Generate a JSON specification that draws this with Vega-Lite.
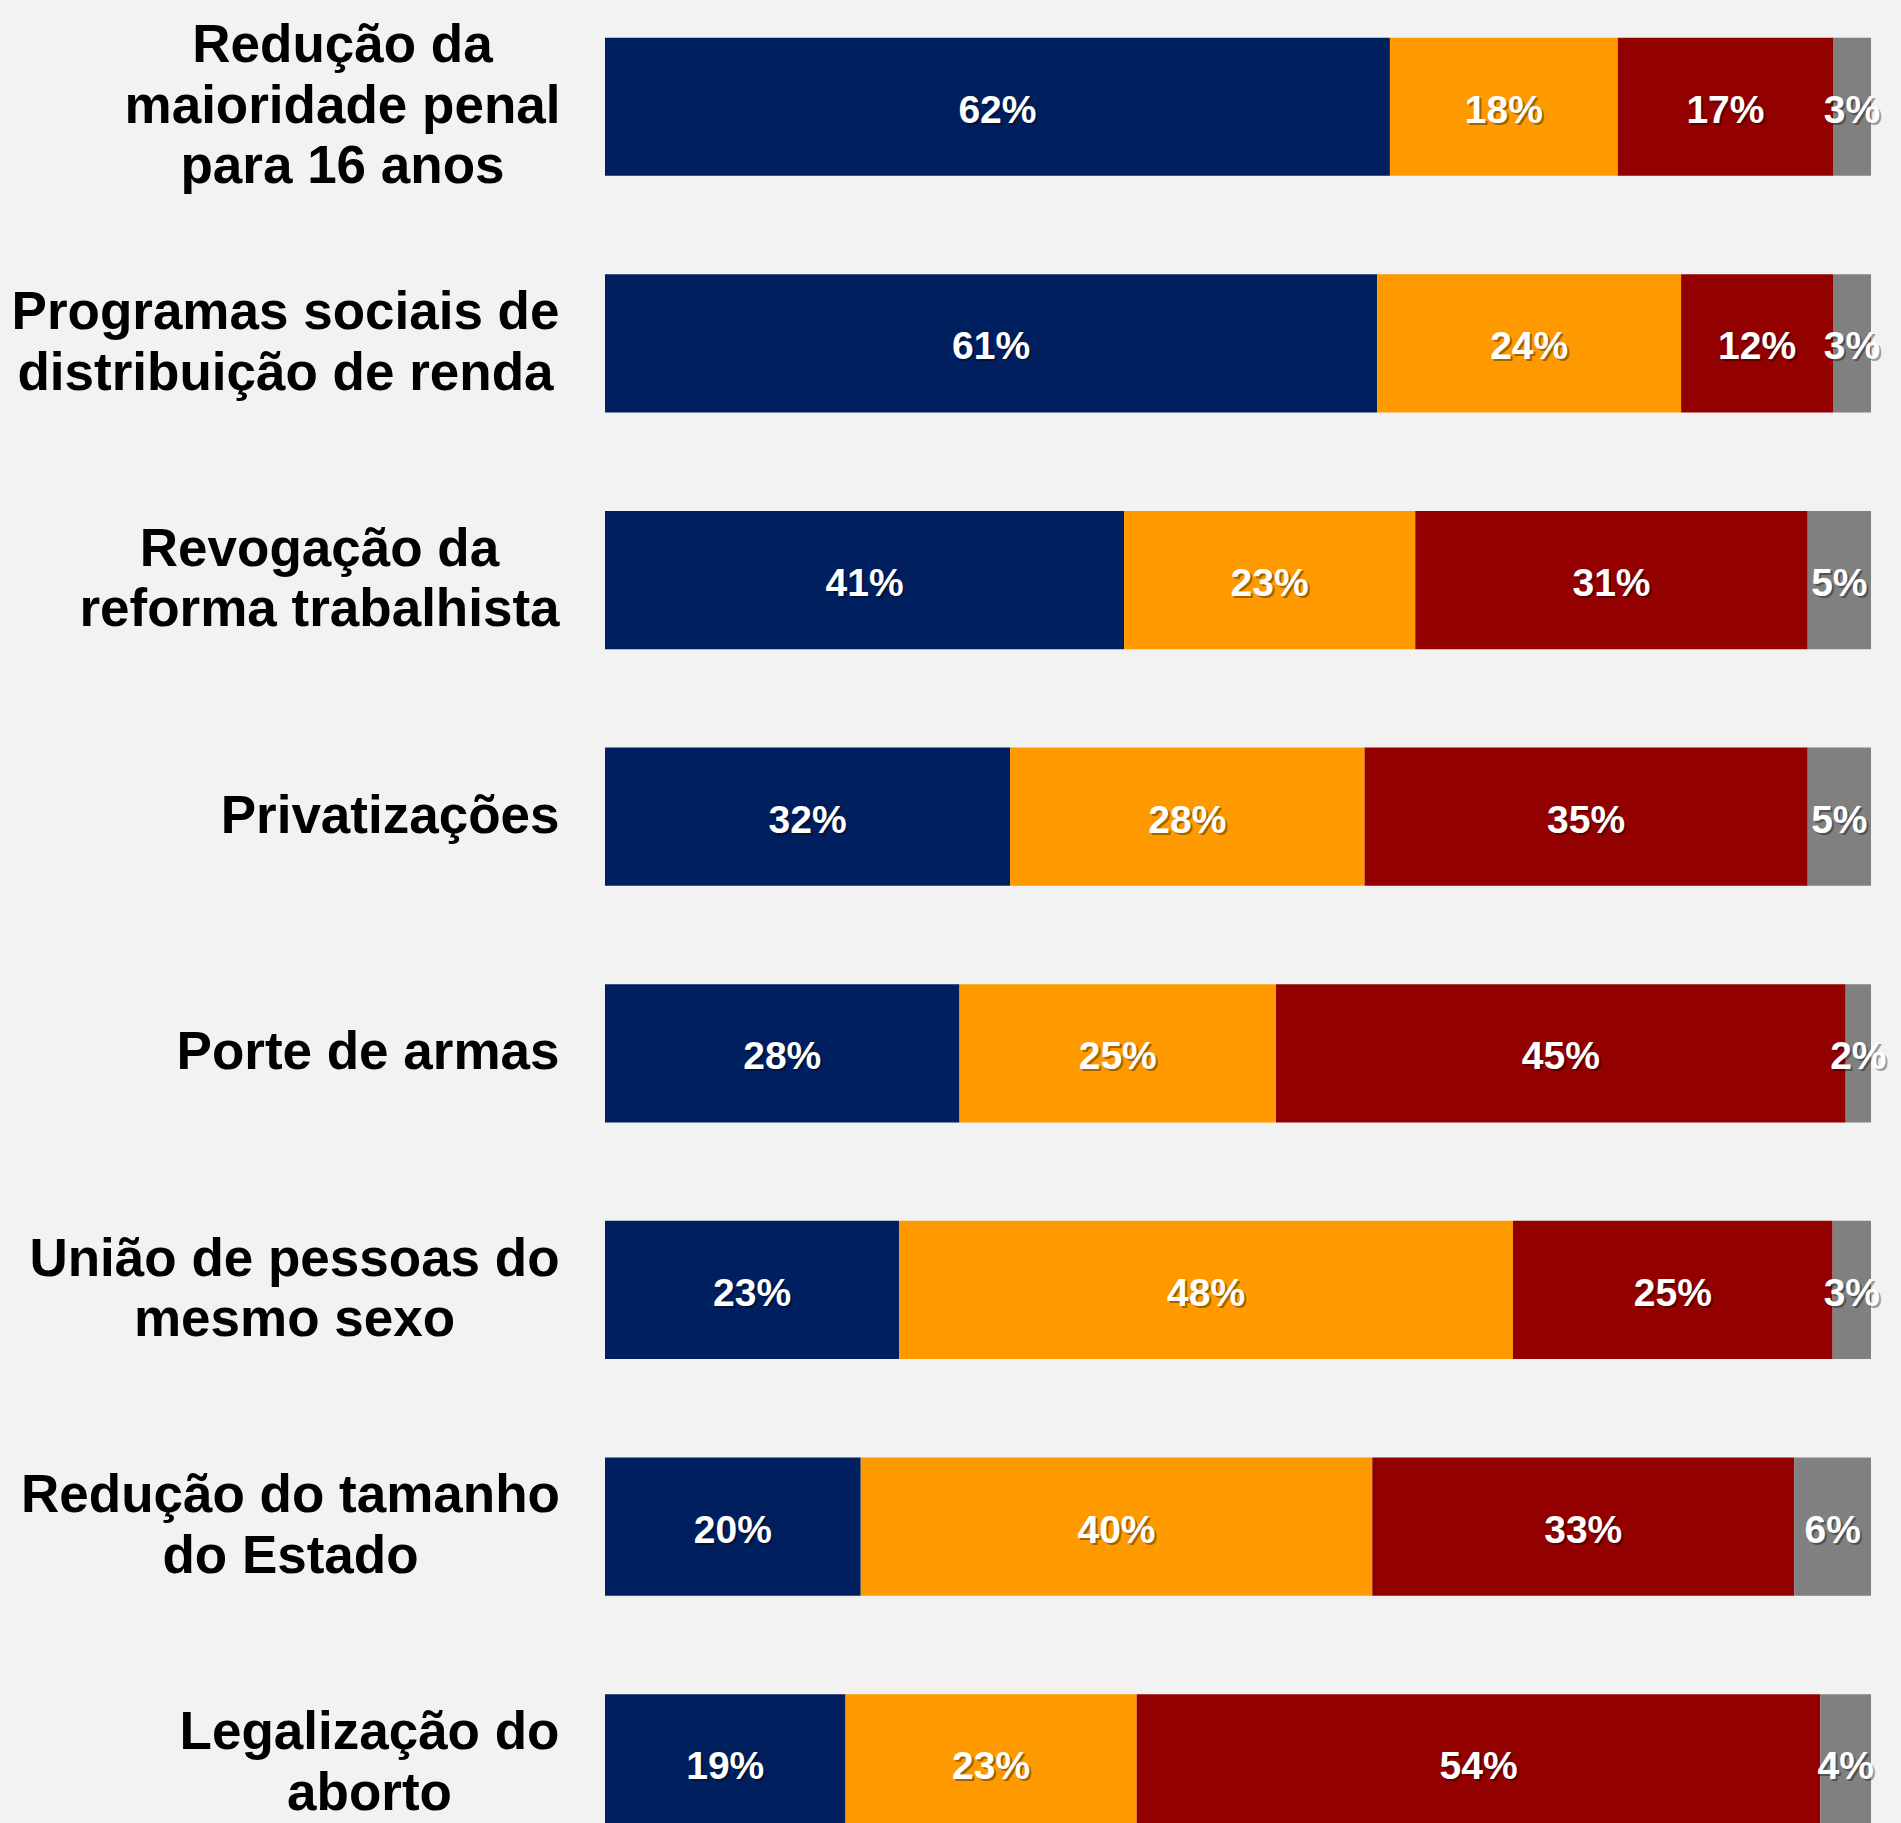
{
  "$schema": "https://vega.github.io/schema/vega-lite/v6.json",
  "autosize": {"type": "none"},
  "padding": {"left": 605, "top": 0, "right": 30, "bottom": 0},
  "width": 1266,
  "height": 1823,
  "background": "#f2f2f2",
  "config": {"view": {"stroke": null}, "font": "Liberation Sans"},
  "data": {"values": [
    {"item": "Redução da|maioridade penal|para 16 anos", "k": 1, "cat": "A favor", "value": 0.62},
    {"item": "Redução da|maioridade penal|para 16 anos", "k": 2, "cat": "Depende", "value": 0.18},
    {"item": "Redução da|maioridade penal|para 16 anos", "k": 3, "cat": "Contra", "value": 0.17},
    {"item": "Redução da|maioridade penal|para 16 anos", "k": 4, "cat": "Não sabe", "value": 0.03},
    {"item": "Programas sociais de|distribuição de renda", "k": 1, "cat": "A favor", "value": 0.61},
    {"item": "Programas sociais de|distribuição de renda", "k": 2, "cat": "Depende", "value": 0.24},
    {"item": "Programas sociais de|distribuição de renda", "k": 3, "cat": "Contra", "value": 0.12},
    {"item": "Programas sociais de|distribuição de renda", "k": 4, "cat": "Não sabe", "value": 0.03},
    {"item": "Revogação da|reforma trabalhista", "k": 1, "cat": "A favor", "value": 0.41},
    {"item": "Revogação da|reforma trabalhista", "k": 2, "cat": "Depende", "value": 0.23},
    {"item": "Revogação da|reforma trabalhista", "k": 3, "cat": "Contra", "value": 0.31},
    {"item": "Revogação da|reforma trabalhista", "k": 4, "cat": "Não sabe", "value": 0.05},
    {"item": "Privatizações", "k": 1, "cat": "A favor", "value": 0.32},
    {"item": "Privatizações", "k": 2, "cat": "Depende", "value": 0.28},
    {"item": "Privatizações", "k": 3, "cat": "Contra", "value": 0.35},
    {"item": "Privatizações", "k": 4, "cat": "Não sabe", "value": 0.05},
    {"item": "Porte de armas", "k": 1, "cat": "A favor", "value": 0.28},
    {"item": "Porte de armas", "k": 2, "cat": "Depende", "value": 0.25},
    {"item": "Porte de armas", "k": 3, "cat": "Contra", "value": 0.45},
    {"item": "Porte de armas", "k": 4, "cat": "Não sabe", "value": 0.02},
    {"item": "União de pessoas do|mesmo sexo", "k": 1, "cat": "A favor", "value": 0.23},
    {"item": "União de pessoas do|mesmo sexo", "k": 2, "cat": "Depende", "value": 0.48},
    {"item": "União de pessoas do|mesmo sexo", "k": 3, "cat": "Contra", "value": 0.25},
    {"item": "União de pessoas do|mesmo sexo", "k": 4, "cat": "Não sabe", "value": 0.03},
    {"item": "Redução do tamanho|do Estado", "k": 1, "cat": "A favor", "value": 0.20},
    {"item": "Redução do tamanho|do Estado", "k": 2, "cat": "Depende", "value": 0.40},
    {"item": "Redução do tamanho|do Estado", "k": 3, "cat": "Contra", "value": 0.33},
    {"item": "Redução do tamanho|do Estado", "k": 4, "cat": "Não sabe", "value": 0.06},
    {"item": "Legalização do|aborto", "k": 1, "cat": "A favor", "value": 0.19},
    {"item": "Legalização do|aborto", "k": 2, "cat": "Depende", "value": 0.23},
    {"item": "Legalização do|aborto", "k": 3, "cat": "Contra", "value": 0.54},
    {"item": "Legalização do|aborto", "k": 4, "cat": "Não sabe", "value": 0.04}
  ]},
  "encoding": {
    "y": {
      "field": "item", "type": "nominal", "sort": null,
      "scale": {"range": [0, 1870], "paddingInner": 0.416, "paddingOuter": 0.159},
      "axis": {
        "title": null, "domain": false, "ticks": false,
        "labelFontSize": 53, "labelFontWeight": "bold",
        "labelColor": "#000000", "labelLineHeight": 60.6,
        "labelBaseline": "middle", "labelLimit": 0,
        "labelExpr": "split(datum.label, '|')",
        "labelAlign": {"condition": {"test": "indexof(datum.value, '|') >= 0", "value": "center"}, "value": "right"},
        "labelOffset": {"condition": [
          {"test": "length(split(datum.value, '|')) == 3", "value": -60.6},
          {"test": "length(split(datum.value, '|')) == 2", "value": -30.3}
        ], "value": 0},
        "labelPadding": {"condition": [
          {"test": "indexof(datum.value, 'maioridade') >= 0", "value": 263},
          {"test": "indexof(datum.value, 'Programas') >= 0", "value": 320},
          {"test": "indexof(datum.value, 'trabalhista') >= 0", "value": 286},
          {"test": "indexof(datum.value, 'União') >= 0", "value": 311},
          {"test": "indexof(datum.value, 'tamanho') >= 0", "value": 315},
          {"test": "indexof(datum.value, 'aborto') >= 0", "value": 236}
        ], "value": 46}
      }
    },
    "order": {"field": "k", "type": "quantitative"}
  },
  "layer": [
    {
      "mark": {"type": "bar"},
      "encoding": {
        "x": {"field": "value", "type": "quantitative", "stack": "normalize", "scale": {"domain": [0, 1]}, "axis": null},
        "color": {
          "field": "cat", "type": "nominal",
          "scale": {"domain": ["A favor", "Depende", "Contra", "Não sabe"], "range": ["#001f5f", "#ff9900", "#930000", "#808080"]},
          "legend": null
        }
      }
    },
    {
      "mark": {"type": "text", "font": "Liberation Sans", "fontSize": 39, "fontWeight": "bold", "color": "#000000", "opacity": 0.35, "dx": 2, "dy": 6, "baseline": "middle"},
      "encoding": {
        "x": {"field": "value", "type": "quantitative", "stack": "normalize", "bandPosition": 0.5},
        "text": {"field": "value", "type": "quantitative", "format": ".0%"}
      }
    },
    {
      "mark": {"type": "text", "font": "Liberation Sans", "fontSize": 39, "fontWeight": "bold", "color": "#ffffff", "baseline": "middle", "dy": 4},
      "encoding": {
        "x": {"field": "value", "type": "quantitative", "stack": "normalize", "bandPosition": 0.5},
        "text": {"field": "value", "type": "quantitative", "format": ".0%"}
      }
    }
  ]
}
